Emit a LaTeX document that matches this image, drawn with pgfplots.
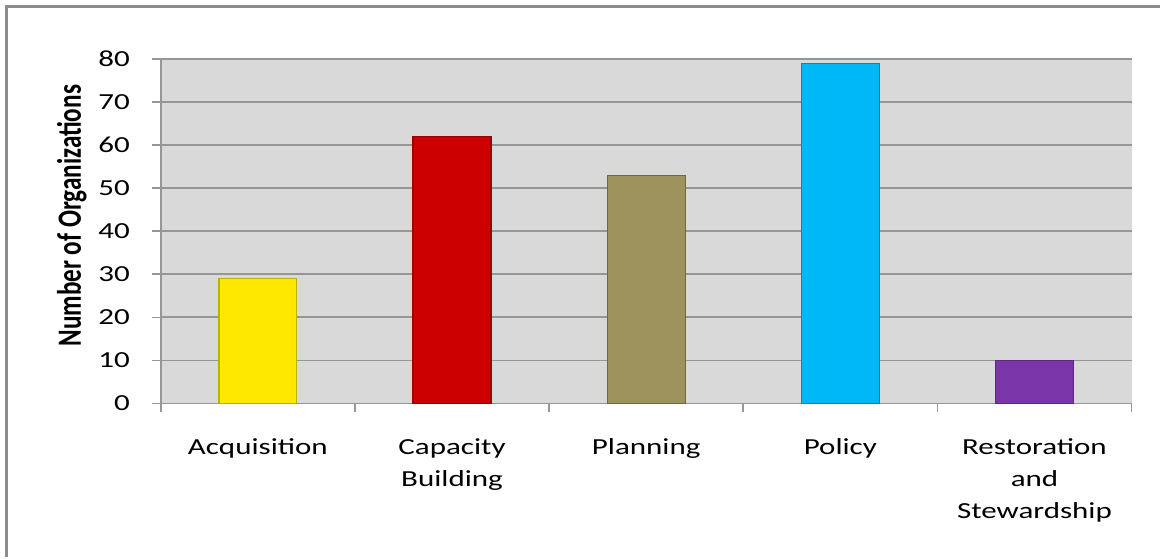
\documentclass[border=0pt]{standalone}
\usepackage{pgfplots}
\pgfplotsset{compat=1.18}
\usepackage{fontspec}
\usepackage{graphicx}
\setmainfont{Carlito}
\newfontfamily\lab[FakeStretch=1.35]{Carlito}
\definecolor{framegray}{HTML}{8C8C8C}
\definecolor{bggray}{HTML}{D9D9D9}
\definecolor{gridgray}{HTML}{969696}
\definecolor{cyellow}{HTML}{FFE800}
\definecolor{cred}{HTML}{CC0000}
\definecolor{colive}{HTML}{9E935C}
\definecolor{ccyan}{HTML}{00B8F5}
\definecolor{cpurple}{HTML}{7A35A8}
\begin{document}
\begin{tikzpicture}[x=1pt,y=1pt]
\path (0,0) rectangle (580.5,279);
\draw[color=framegray, line width=1.5pt] (3.5,0) -- (3.5,275.5) -- (580.5,275.5);
\begin{axis}[
  at={(80.5pt,77pt)}, anchor=south west,
  scale only axis, width=486pt, height=172.5pt,
  xmin=0, xmax=5, ymin=0, ymax=80,
  ytick={0,10,...,80}, xtick={0,1,2,3,4,5},
  xticklabels={Acquisition,Capacity\\Building,Planning,Policy,Restoration\\and\\Stewardship},
  x tick label as interval,
  axis x line*=bottom, axis y line*=left,
  axis line style={color=gridgray, line width=0.8pt},
  tick style={color=gridgray, line width=0.8pt},
  tick align=outside, major tick length=4.5pt,
  axis background/.style={fill=bggray},
  ymajorgrids, major grid style={color=gridgray, line width=0.9pt},
  /pgf/number format/assume math mode=true,
  yticklabel style={font=\lab\fontsize{11.5}{14}\selectfont, color=black, xshift=-7.5pt},
  xticklabel style={font=\lab\fontsize{11.5}{16}\selectfont, align=center, color=black, anchor=north, yshift=-9.5pt},
  every axis y label/.style={at={(axis description cs:-0.0916,0.545)}, rotate=90, anchor=center},
  ylabel={\scalebox{1}[1.35]{\fontsize{12.6}{14}\selectfont\bfseries Number of Organizations}},
  clip=false,
]
\addplot[ybar, bar width=39pt, bar shift=0pt, fill=cyellow, draw=cyellow!75!black, line width=0.6pt] coordinates {(0.5,29)};
\addplot[ybar, bar width=39pt, bar shift=0pt, fill=cred, draw=cred!75!black, line width=0.6pt] coordinates {(1.5,62)};
\addplot[ybar, bar width=39pt, bar shift=0pt, fill=colive, draw=colive!70!black, line width=0.6pt] coordinates {(2.5,53)};
\addplot[ybar, bar width=39pt, bar shift=0pt, fill=ccyan, draw=ccyan!75!black, line width=0.6pt] coordinates {(3.5,79)};
\addplot[ybar, bar width=39pt, bar shift=0pt, fill=cpurple, draw=cpurple!75!black, line width=0.6pt] coordinates {(4.5,10)};
\end{axis}
\end{tikzpicture}
\end{document}
